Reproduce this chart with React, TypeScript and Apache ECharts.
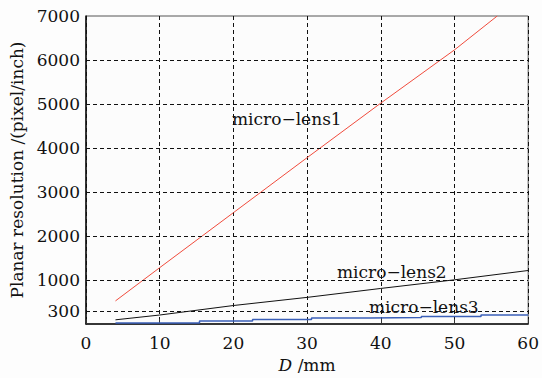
import React, { useEffect, useRef } from "react";
import * as echarts from "echarts";

const lens1X = [4, 10, 20, 30, 40, 50, 55.8];
const lens1Y = [525, 1280, 2530, 3780, 5020, 6230, 7000];
const lens2X = [4, 10, 20, 30, 40, 50, 60];
const lens2Y = [95, 204, 420, 605, 808, 1004, 1216];
const lens3X = [4, 15.4, 22.6, 30.6, 38.5, 45.5, 53.6, 60];
const lens3Y = [22, 70, 105, 135, 150, 172, 205, 205];
const yTicks = [300, 1000, 2000, 3000, 4000, 5000, 6000, 7000];
const yGrid = [300, 1000, 2000, 3000, 4000, 5000, 6000];
const labels = ["micro\u2212lens1", "micro\u2212lens2", "micro\u2212lens3"];

const FONT = "DejaVu Serif";

export default function App() {
  const ref = useRef<HTMLDivElement>(null);
  useEffect(() => {
    if (!ref.current) return;
    const chart = echarts.init(ref.current, undefined, { renderer: "svg" });
    const zip = (xs: number[], ys: number[]) => xs.map((x, i) => [x, ys[i]]);
    chart.setOption({
      animation: false,
      backgroundColor: "#fdfdfd",
      grid: {
        left: 86,
        top: 16,
        right: 13,
        bottom: 53,
        show: true,
        borderColor: "#555",
        borderWidth: 1,
        backgroundColor: "#fcfcfc",
      },
      xAxis: {
        type: "value",
        min: 0,
        max: 60,
        interval: 10,
        name: "{i|D} /mm",
        nameLocation: "middle",
        nameGap: 32,
        nameTextStyle: {
          fontFamily: FONT,
          fontSize: 17,
          color: "#111",
          rich: { i: { fontFamily: FONT, fontStyle: "italic", fontSize: 17, color: "#111" } },
        },
        axisLine: { lineStyle: { color: "#111", width: 1.5 } },
        axisTick: { inside: true, length: 5, lineStyle: { color: "#333" } },
        axisLabel: { fontFamily: FONT, fontSize: 17, color: "#111", margin: 10 },
        splitLine: { show: true, lineStyle: { color: "#111", type: [4, 3], width: 1 } },
      },
      yAxis: {
        type: "value",
        min: 0,
        max: 7000,
        name: "Planar resolution /(pixel/inch)",
        nameLocation: "middle",
        nameRotate: 90,
        nameGap: 59,
        nameTextStyle: { fontFamily: FONT, fontSize: 17, color: "#111" },
        axisLine: { show: true, lineStyle: { color: "#111", width: 1.5 } },
        axisTick: { show: false, customValues: yTicks },
        axisLabel: {
          fontFamily: FONT,
          fontSize: 17,
          color: "#111",
          margin: 6,
          customValues: yTicks,
          formatter: (v: number) => String(v),
        },
        splitLine: { show: false },
      },
      series: [
        {
          type: "line",
          data: zip(lens1X, lens1Y),
          symbol: "none",
          lineStyle: { color: "#f04b3c", width: 1 },
          markLine: {
            silent: true,
            symbol: "none",
            label: { show: false },
            lineStyle: { color: "#111", type: [4, 3], width: 1 },
            data: yGrid.map((v) => ({ yAxis: v })),
          },
          z: 3,
        },
        {
          type: "line",
          data: zip(lens2X, lens2Y),
          symbol: "none",
          lineStyle: { color: "#111", width: 1 },
          z: 3,
        },
        {
          type: "line",
          step: "end",
          data: zip(lens3X, lens3Y),
          symbol: "none",
          lineStyle: { color: "#3a5fb8", width: 1.5 },
          z: 3,
        },
      ],
      graphic: [
        { type: "text", x: 232, y: 110, z: 10, style: { text: labels[0], font: `17px "${FONT}"`, fill: "#111" } },
        { type: "text", x: 337, y: 263, z: 10, style: { text: labels[1], font: `17px "${FONT}"`, fill: "#111" } },
        { type: "text", x: 369, y: 298, z: 10, style: { text: labels[2], font: `17px "${FONT}"`, fill: "#111" } },
      ],
    });
    return () => chart.dispose();
  }, []);
  return <div ref={ref} style={{ position: "absolute", left: 0, top: 0, width: 542, height: 378 }} />;
}
